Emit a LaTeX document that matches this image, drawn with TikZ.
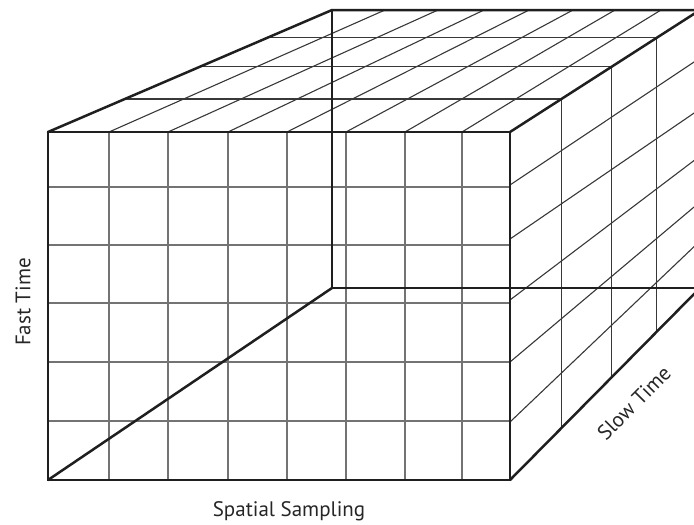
\documentclass[tikz,border=0pt]{standalone}
\usepackage{fontspec}
\setmainfont{PT Sans}
\begin{document}
\begin{tikzpicture}[x=1pt,y=-1pt,
  edge/.style={line width=2.5pt,draw=black!88,line cap=round},
  gridf/.style={line width=1.3pt,draw=black!55},
  gridt/.style={line width=1.1pt,draw=black!78},
  lbl/.style={font=\fontsize{21}{24}\selectfont,text=black!85,inner sep=0pt}]
\useasboundingbox (0,0) rectangle (694,525);
\clip (0,0) rectangle (694,525);
% corners
\coordinate (FTL) at (48,132);
\coordinate (FTR) at (510,132);
\coordinate (FBL) at (48,480);
\coordinate (FBR) at (510,480);
\coordinate (BTL) at (332,10);
\coordinate (BTR) at (700,10);
\coordinate (BBL) at (332,288);
\coordinate (BBR) at (700,288);
% front grid
\foreach \x in {109,168,228,287,346,405,462}
  \draw[gridf] (\x,132) -- (\x,480);
\foreach \y in {187,245,303,362,421}
  \draw[gridf] (48,\y) -- (510,\y);
% top face depth lines
\foreach \a/\b in {109/385,168/438,228/484,287/529,346/573,405/615,462/661}
  \draw[gridt] (\a,132) -- (\b,10);
% top face cross lines
\foreach \y in {99,66.7,37.7}{
  \pgfmathsetmacro{\xl}{48+(132-\y)/122*284}
  \pgfmathsetmacro{\xr}{510+(132-\y)/122*190}
  \draw[gridt] (\xl,\y) -- (\xr,\y);
}
% side face verticals
\foreach \y in {99,66.7,37.7}{
  \pgfmathsetmacro{\xr}{510+(132-\y)/122*190}
  \pgfmathsetmacro{\yb}{480-(\xr-510)/190*192}
  \draw[gridt] (\xr,\y) -- (\xr,\yb);
}
% side face depth lines
\foreach \a/\b in {185/58,239/109,300/156,362/202,422/241}
  \draw[gridt] (510,\a) -- (700,\b);
% thick edges
\draw[edge] (FTL) rectangle (FBR);
\draw[edge] (FTL) -- (BTL) -- (BTR);
\draw[edge] (FTR) -- (BTR);
\draw[edge] (BTL) -- (BBL) -- (BBR);
\draw[edge] (FBL) -- (BBL);
\draw[edge] (FBR) -- (BBR);
\draw[edge] (BTR) -- (BBR);
% labels
\node[lbl,rotate=90] (fast) at (23,302) {Fast Time};
\node[lbl] (spatial) at (289,511) {Spatial Sampling};
\node[lbl,rotate=45.3] (slow) at (634,403) {Slow Time};
\end{tikzpicture}
\end{document}
